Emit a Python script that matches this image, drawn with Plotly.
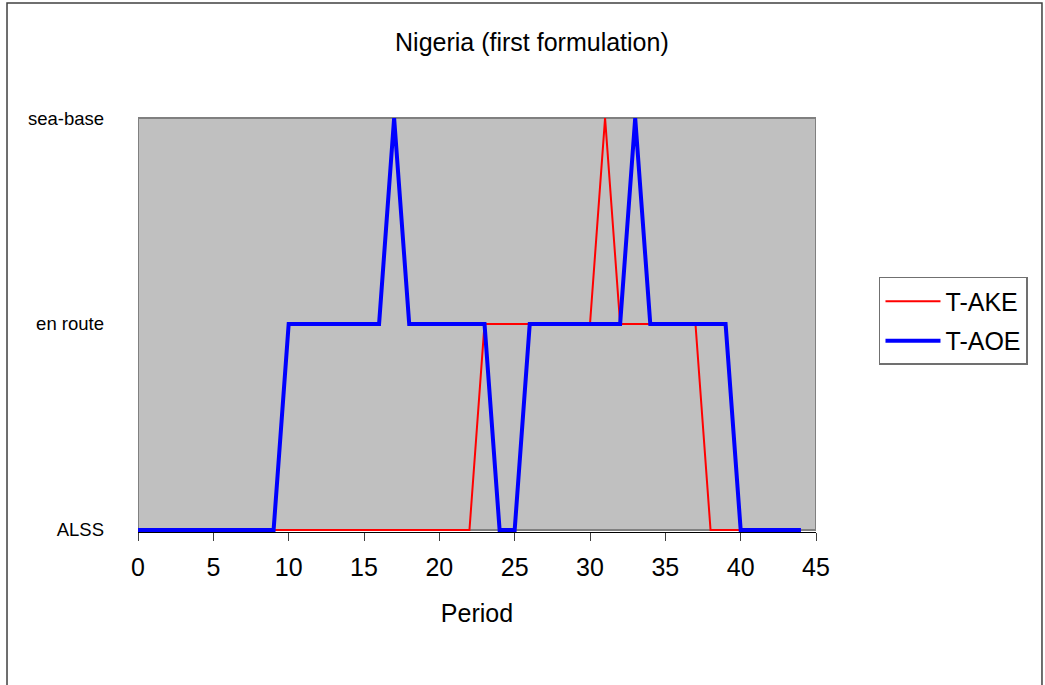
import plotly.graph_objects as go

# ---- data ----
periods = list(range(0, 45))
state_labels = ["ALSS", "en route", "sea-base"]
state_vals = [0, 1, 2]
# state per period: 0 = ALSS, 1 = en route, 2 = sea-base
t_ake = [0]*23 + [1]*8 + [2] + [1]*6 + [0]*7
t_aoe = [0]*10 + [1]*7 + [2] + [1]*6 + [0]*2 + [1]*7 + [2] + [1]*6 + [0]*5
x_ticks = list(range(0, 50, 5))
x_range = [0, 45]
y_range = [0, 2]

FONT = "Liberation Sans, Arial, sans-serif"

fig = go.Figure()
fig.add_trace(go.Scatter(x=periods, y=t_ake, mode="lines", name="T-AKE",
                         line=dict(color="#FF0000", width=2), legendgroup="a"))
fig.add_trace(go.Scatter(x=periods, y=t_aoe, mode="lines", name="T-AOE",
                         line=dict(color="#0000FF", width=4), legendgroup="b"))

pad = 0.01
fig.update_layout(
    width=1045, height=685,
    margin=dict(l=138, r=229, t=116, b=153),
    paper_bgcolor="white", plot_bgcolor="white",
    font=dict(family=FONT, color="black"),
    title=dict(text="Nigeria (first formulation)", x=0.509, xanchor="center",
               xref="container", y=0.939, yanchor="middle", yref="container",
               font=dict(size=25, family=FONT, color="black")),
    xaxis=dict(range=x_range, tickvals=x_ticks, showgrid=False, zeroline=False,
               showline=True, linecolor="#000000", linewidth=1,
               ticks="outside", ticklen=8, tickcolor="#404040",
               ticklabelstandoff=5,
               tickfont=dict(size=25), title=dict(text="Period", font=dict(size=25), standoff=24)),
    yaxis=dict(range=[y_range[0]-pad, y_range[1]+pad], tickvals=state_vals, ticktext=state_labels,
               showgrid=False, zeroline=False, showline=False, ticks="",
               tickfont=dict(size=18.5), ticklabelstandoff=33),
    legend=dict(x=1.0929, xanchor="left", y=0.613, yanchor="top",
                bgcolor="white", bordercolor="#707070", borderwidth=1.5,
                font=dict(size=25, family=FONT), tracegroupgap=4, traceorder="grouped",
                itemwidth=55),
    showlegend=True,
    shapes=[
        dict(type="rect", xref="x", yref="y", x0=x_range[0], x1=x_range[1],
             y0=y_range[0], y1=y_range[1], fillcolor="#C0C0C0",
             line=dict(color="#808080", width=2), layer="below"),
        dict(type="rect", xref="paper", yref="paper", x0=-0.1932, x1=1.3333,
             y0=-0.404, y1=1.2716, line=dict(color="#404040", width=1.5),
             fillcolor="rgba(0,0,0,0)", layer="below"),
    ],
)

fig.write_html("out.html", config={"displayModeBar": False},
               post_script="document.body.style.margin='0';")
